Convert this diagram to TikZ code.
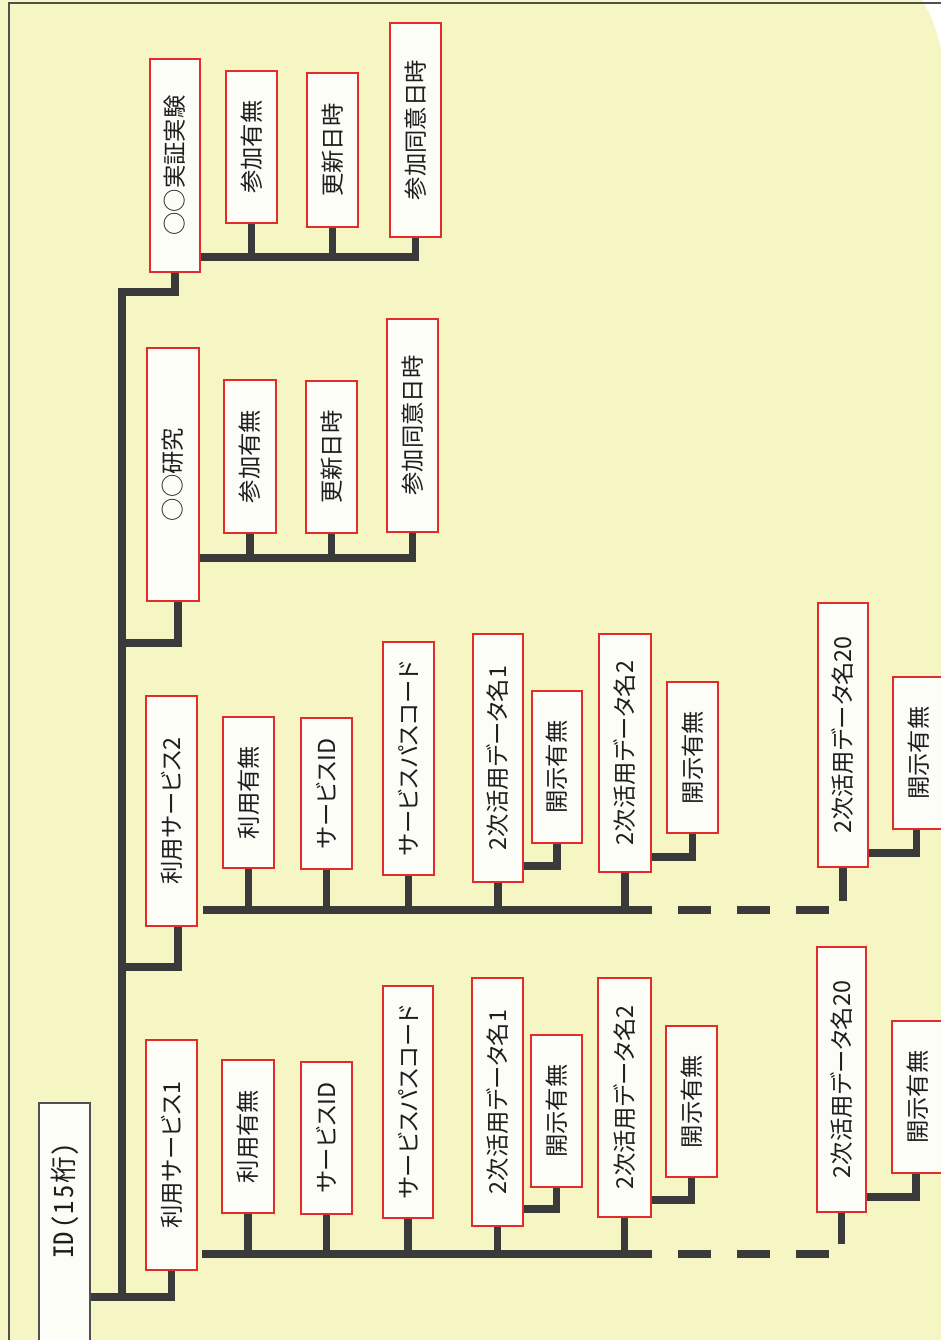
\documentclass[tikz,border=0pt]{standalone}
\usepackage{fontspec}
\usepackage{graphicx}
\setmainfont{Noto Sans CJK JP}[RawFeature={+palt}]
\newfontfamily\idfont{Noto Sans CJK JP}[RawFeature={+hwid}]
\definecolor{bgc}{RGB}{246,245,196}
\definecolor{boxc}{RGB}{253,253,248}
\definecolor{redc}{RGB}{226,44,44}
\definecolor{linec}{RGB}{58,58,58}
\definecolor{framec}{RGB}{80,80,80}
\definecolor{txtc}{RGB}{30,30,30}
\tikzset{
  rbox/.style={draw=redc, line width=1.5pt, fill=boxc, inner sep=0pt, text=txtc,
    font=\fontsize{17.5pt}{20pt}\selectfont},
  idbox/.style={draw=framec, line width=1.3pt, fill=boxc, inner sep=0pt},
  idtext/.style={inner sep=0pt, text=txtc, font=\idfont\fontsize{20pt}{22pt}\selectfont},
  conn/.style={draw=linec, line width=5.6pt},
  dashconn/.style={conn, dash pattern=on 24.75pt off 19.5pt, dash phase=24.75pt},
}
\newcommand\bx[6]{\node[rbox, minimum width={(#4-#2)*0.75pt}, minimum height={(#5-#3)*0.75pt}] (#1) at ({(#2+#4)/2},{(#3+#5)/2}) {\rotatebox{90}{#6}};}
\begin{document}
\begin{tikzpicture}[x=0.75pt,y=-0.75pt]
\useasboundingbox (0,0) rectangle (941,1340);
\fill[bgc] (0,0) rectangle (941,1340);
\fill[white] (923,0) -- (941,0) -- (941,48) .. controls (936,30) and (932,14) .. (923,3) -- cycle;
\draw[framec, line width=1.3pt] (9,1345) -- (9,3) -- (945,3);

% ID box
\node[idbox, minimum width={51*0.75pt}, minimum height={250*0.75pt}] (id) at (64.5,1228) {};
\node[idtext] (idt) at (64.5,1201) {\rotatebox{90}{ID\kern0.12em（\kern0.05em 1\kern0.1em 5\kern0.05em 桁）}};

% top group
\bx{j}{150}{59}{200}{272}{○○実証実験}
\bx{ja}{226}{71}{277}{223}{参加有無}
\bx{jb}{307}{73}{358}{227}{更新日時}
\bx{jc}{390}{23}{441}{237}{参加同意日時}

% research group
\bx{r}{147}{348}{199}{601}{○○研究}
\bx{ra}{224}{380}{276}{533}{参加有無}
\bx{rb}{306}{381}{357}{533}{更新日時}
\bx{rc}{387}{319}{438}{532}{参加同意日時}

% service 2
\bx{s2}{146}{696}{197}{926}{利用サービス2}
\bx{u2a}{223}{717}{274}{868}{利用有無}
\bx{u2b}{301}{718}{352}{869}{サービスID}
\bx{u2c}{383}{642}{434}{875}{サービスパスコード}
\bx{u2d}{473}{634}{523}{882}{2次活用データ名1}
\bx{u2e}{532}{691}{582}{843}{開示有無}
\bx{u2f}{599}{634}{651}{872}{2次活用データ名2}
\bx{u2g}{667}{682}{718}{833}{開示有無}
\bx{u2h}{818}{603}{868}{867}{2次活用データ名20}
\bx{u2i}{893}{677}{944}{829}{開示有無}

% service 1
\bx{s1}{146}{1040}{197}{1270}{利用サービス1}
\bx{l1a}{222}{1060}{274}{1213}{利用有無}
\bx{l1b}{301}{1062}{352}{1214}{サービスID}
\bx{l1c}{383}{986}{433}{1218}{サービスパスコード}
\bx{l1d}{472}{978}{523}{1226}{2次活用データ名1}
\bx{l1e}{531}{1035}{582}{1187}{開示有無}
\bx{l1f}{598}{978}{651}{1217}{2次活用データ名2}
\bx{l1g}{666}{1026}{717}{1177}{開示有無}
\bx{l1h}{817}{947}{866}{1212}{2次活用データ名20}
\bx{l1i}{892}{1021}{944}{1173}{開示有無}

% helper coordinates
\coordinate (trk) at (122,0);
\coordinate (lj) at (0,292);
\coordinate (lr) at (0,643);
\coordinate (l2) at (0,967);
\coordinate (l1) at (0,1297);
\coordinate (b2) at (203,910);
\coordinate (b1) at (202,1254);

% trunk and links
\draw[conn] (j.south) |- (trk |- lj) -- (trk |- l1);
\draw[conn] ([xshift=3.75pt]r.south) |- (trk |- lr);
\draw[conn] ([xshift=4.9pt]s2.south) |- (trk |- l2);
\draw[conn] (s1.south) |- (id.east |- l1);

% top group bus
\draw[conn] (jc.south) |- (j.east |- 0,257);
\draw[conn] (ja.south) -- (ja.south |- 0,257);
\draw[conn] (jb.south) -- (jb.south |- 0,257);

% research bus
\draw[conn] (rc.south) |- (r.east |- 0,558);
\draw[conn] (ra.south) -- (ra.south |- 0,558);
\draw[conn] (rb.south) -- (rb.south |- 0,558);

% service 2 bus
\draw[conn] (b2) -- (u2f.east |- b2);
\draw[conn] (u2a.south) -- (u2a.south |- b2);
\draw[conn] (u2b.south) -- (u2b.south |- b2);
\draw[conn] (u2c.south) -- (u2c.south |- b2);
\draw[conn] (u2d.south) -- (u2d.south |- b2);
\draw[conn] (u2f.south) -- (u2f.south |- b2);
\draw[dashconn] (u2f.east |- b2) -- (u2h.south |- b2);
\draw[conn] (u2h.south) -- ++(0,33);
\draw[conn] (u2e.south) |- (u2d.east |- 0,866);
\draw[conn] (u2g.south) |- (u2f.east |- 0,857);
\draw[conn] ([xshift=-1.5pt]u2i.south) |- (u2h.east |- 0,853);

% service 1 bus
\draw[conn] (b1) -- (l1f.east |- b1);
\draw[conn] (l1a.south) -- (l1a.south |- b1);
\draw[conn] (l1b.south) -- (l1b.south |- b1);
\draw[conn] (l1c.south) -- (l1c.south |- b1);
\draw[conn] (l1d.south) -- (l1d.south |- b1);
\draw[conn] (l1f.south) -- (l1f.south |- b1);
\draw[dashconn] (l1f.east |- b1) -- (l1h.south |- b1);
\draw[conn] (l1h.south) -- ++(0,31);
\draw[conn] (l1e.south) |- (l1d.east |- 0,1209);
\draw[conn] (l1g.south) |- (l1f.east |- 0,1200);
\draw[conn] ([xshift=-1.5pt]l1i.south) |- (l1h.east |- 0,1197);
\end{tikzpicture}
\end{document}
